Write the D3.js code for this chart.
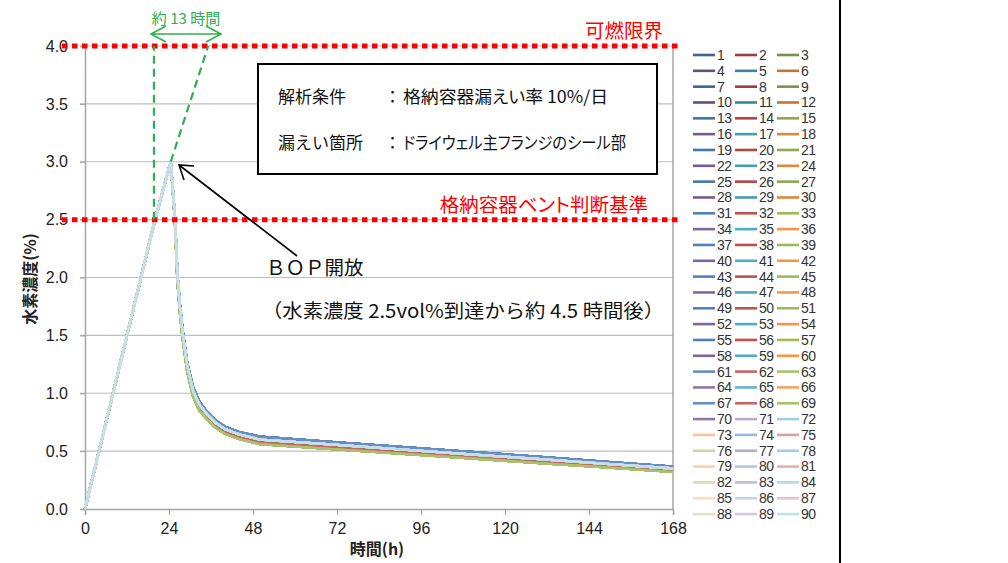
<!DOCTYPE html>
<html><head><meta charset="utf-8">
<script src="https://cdn.jsdelivr.net/npm/d3@7"></script>
<style>
body{margin:0;background:#fff;}
svg{display:block;font-family:"Noto Sans CJK JP",sans-serif;}
.num{font-family:"Liberation Sans Narrow","Liberation Sans",Arial,sans-serif;}
.jp{font-feature-settings:"palt";}
</style></head><body><svg id="c" width="1008" height="563"></svg>
<script>
// ---- data ----
const hours  = [0, 20, 24.5, 25.7, 26.4, 27.1, 27.9, 29.2, 30.9, 32.7, 34.8, 37.3, 40, 44, 50, 70, 88, 107, 130, 150, 168];
const curveA = [0, 2.5, 3.0, 2.52, 2.03, 1.77, 1.54, 1.26, 1.05, 0.925, 0.84, 0.765, 0.71, 0.665, 0.625, 0.58, 0.54, 0.50, 0.45, 0.405, 0.365];
const curveB = [0, 2.5, 3.0, 2.51, 2.02, 1.75, 1.52, 1.24, 1.02, 0.90, 0.82, 0.745, 0.69, 0.645, 0.60, 0.558, 0.519, 0.479, 0.43, 0.388, 0.35];
const curveC = [0, 2.5, 3.0, 2.50, 2.00, 1.73, 1.50, 1.22, 1.00, 0.88, 0.80, 0.725, 0.67, 0.625, 0.58, 0.539, 0.502, 0.463, 0.415, 0.374, 0.337];
const curveD = [0, 2.5, 3.0, 2.49, 1.99, 1.72, 1.49, 1.21, 0.99, 0.87, 0.79, 0.715, 0.66, 0.615, 0.57, 0.529, 0.492, 0.453, 0.406, 0.365, 0.328];
const curveE = [0, 2.5, 3.0, 2.48, 1.97, 1.70, 1.47, 1.19, 0.97, 0.85, 0.78, 0.705, 0.65, 0.605, 0.56, 0.519, 0.483, 0.444, 0.397, 0.357, 0.32];
// which of the curves each of series 1..90 follows
const seriesCurve = [
 0,2,4,1,1,3, 0,2,4,1,1,3, 0,2,4,1,1,3, 0,2,4,1,1,3, 0,2,4,1,1,3,
 0,2,4,1,1,3, 0,2,4,1,1,3, 0,2,4,1,1,3, 0,2,4,1,1,3, 0,2,4,1,1,3,
 0,2,4,1,1,3, 0,2,4,1,
 1,1,1,1,1,1, 1,1,1,1,1,1, 1,1,1,1,1,1, 1,1
];
const seriesNames = d3.range(1, 91).map(String);
const xTicks = [0, 24, 48, 72, 96, 120, 144, 168];
const yTicks = [0, 0.5, 1.0, 1.5, 2.0, 2.5, 3.0, 3.5, 4.0];
const limitLines = [{v:4.0, label:"可燃限界"}, {v:2.5, label:"格納容器ベント判断基準"}];

// ---- style ----
const palette = ["#4F81BD","#C0504D","#9BBB59","#8064A2","#4BACC6","#F79646"];
function seriesColor(i){
  const hue = i < 70 ? i % 6 : (i - 1) % 6;
  const c = palette[hue];
  if (i < 12) return d3.interpolateRgb(c, "#000")(0.22);
  if (i < 30) return d3.interpolateRgb(c, "#000")(0.1);
  if (i < 60) return c;
  if (i < 70) return d3.interpolateRgb(c, "#fff")(0.12);
  if (i < 78) return d3.interpolateRgb(c, "#fff")(0.45);
  if (i < 84) return d3.interpolateRgb(c, "#fff")(0.55);
  return d3.interpolateRgb(c, "#fff")(0.65);
}

const svg = d3.select("#c");
const x = d3.scaleLinear([0, 168], [85, 673]);
const y = d3.scaleLinear([0, 4], [509, 46]);
const curves = [curveA, curveB, curveC, curveD, curveE];

// gridlines
svg.append("g").selectAll("line").data(yTicks.filter(d => d > 0)).join("line")
  .attr("x1", 80).attr("x2", x(168)).attr("y1", d => y(d)).attr("y2", d => y(d))
  .attr("stroke", "#bdbdbd").attr("stroke-width", 1.2);

// axes
const yAxis = svg.append("g").attr("transform", `translate(${x(0)},0)`)
  .call(d3.axisLeft(y).tickValues(yTicks).tickFormat(d3.format(".1f")).tickSize(5).tickPadding(12));
const xAxis = svg.append("g").attr("transform", `translate(0,${y(0)})`)
  .call(d3.axisBottom(x).tickValues(xTicks).tickSize(6).tickPadding(8));
[yAxis, xAxis].forEach(g => {
  g.select(".domain").attr("stroke", "#a6a6a6").attr("stroke-width", 1.5);
  g.selectAll(".tick line").attr("stroke", "#a6a6a6").attr("stroke-width", 1.2);
  g.selectAll(".tick text").attr("class", "num").attr("fill", "#222").style("font-size", "16px");
});
// right border of plot area
svg.append("line").attr("x1", x(168)).attr("x2", x(168)).attr("y1", y(4)).attr("y2", y(0))
  .attr("stroke", "#a6a6a6").attr("stroke-width", 1.5);

// series
const line = d3.line().x((d, k) => x(hours[k])).y(d => y(d));
svg.append("g").selectAll("path").data(seriesNames).join("path")
  .attr("d", (n, i) => line(curves[seriesCurve[i]]))
  .attr("fill", "none").attr("stroke", (n, i) => seriesColor(i)).attr("stroke-width", 2.3)
  .attr("stroke-linejoin", "round");

// red limit lines
svg.append("g").selectAll("line").data(limitLines).join("line")
  .attr("x1", 62).attr("x2", 678).attr("y1", d => y(d.v)).attr("y2", d => y(d.v))
  .attr("stroke", "#ff0000").attr("stroke-width", 5).attr("stroke-dasharray", "5.5,4.5");
svg.append("text").attr("class", "jp").attr("x", 663).attr("y", y(4.0) - 8).attr("text-anchor", "end")
  .attr("fill", "#ff0000").style("font-size", "19.5px").text(limitLines[0].label);
svg.append("text").attr("class", "jp").attr("x", 648).attr("y", y(2.5) - 8).attr("text-anchor", "end")
  .attr("fill", "#ff0000").style("font-size", "19.5px").text(limitLines[1].label);

// green annotation
const green = "#2bb04e";
svg.append("line").attr("x1", x(19.7)).attr("x2", x(19.7)).attr("y1", y(2.5)).attr("y2", y(4.0))
  .attr("stroke", green).attr("stroke-width", 2.2).attr("stroke-dasharray", "8,5");
svg.append("line").attr("x1", x(24.5)).attr("x2", x(35.2)).attr("y1", y(3.0)).attr("y2", y(4.0))
  .attr("stroke", green).attr("stroke-width", 2.2).attr("stroke-dasharray", "8,5");
const ay = 34, ax1 = 151, ax2 = 221;
svg.append("path").attr("d", `M${ax1},${ay}H${ax2}M${ax1+15},${ay-8}L${ax1},${ay}L${ax1+15},${ay+8}M${ax2-15},${ay-8}L${ax2},${ay}L${ax2-15},${ay+8}`)
  .attr("fill", "none").attr("stroke", green).attr("stroke-width", 1.6);
svg.append("text").attr("x", 186).attr("y", 24).attr("text-anchor", "middle").attr("fill", green)
  .style("font-size", "15px").text("約 13 時間");

// info box
svg.append("rect").attr("x", 258).attr("y", 64).attr("width", 399).attr("height", 110)
  .attr("fill", "#fff").attr("stroke", "#000").attr("stroke-width", 2);
const boxRows = [["解析条件", "格納容器漏えい率 10%/日", 205], ["漏えい箇所", "ドライウェル主フランジのシール部", 223]];
boxRows.forEach((r, k) => {
  const yy = 103 + k * 46;
  svg.append("text").attr("x", 278).attr("y", yy).style("font-size", "17px").attr("fill", "#111").text(r[0]);
  svg.append("text").attr("x", 384).attr("y", yy).style("font-size", "17px").attr("fill", "#111").text("：");
  svg.append("text").attr("class", "jp").attr("x", 403).attr("y", yy).style("font-size", "17px").attr("fill", "#111")
    .attr("textLength", r[2]).attr("lengthAdjust", "spacingAndGlyphs").text(r[1]);
});

// BOP arrow
svg.append("path").attr("d", "M297,256L179,165M194,166L179,165L184,180")
  .attr("fill", "none").attr("stroke", "#000").attr("stroke-width", 1.6);
svg.append("text").attr("x", 266).attr("y", 275).style("font-size", "19.5px").attr("fill", "#111")
  .text("ＢＯＰ開放");
svg.append("text").attr("x", 262).attr("y", 318).style("font-size", "19px").attr("fill", "#111")
  .attr("textLength", 402).attr("lengthAdjust", "spacingAndGlyphs")
  .text("（水素濃度 2.5vol%到達から約 4.5 時間後）");

// axis titles
svg.append("text").attr("transform", "translate(36,279) rotate(-90)").attr("text-anchor", "middle")
  .style("font-size", "16px").style("font-weight", "bold").attr("fill", "#222").text("水素濃度(%)");
svg.append("text").attr("x", 377).attr("y", 555).attr("text-anchor", "middle")
  .style("font-size", "16px").style("font-weight", "bold").attr("fill", "#222").text("時間(h)");

// legend
const lg = svg.append("g").selectAll("g").data(seriesNames).join("g")
  .attr("transform", (n, i) => `translate(${693 + (i % 3) * 42},${55 + Math.floor(i / 3) * 15.83})`);
lg.append("line").attr("x1", 0).attr("x2", 22).attr("stroke", (n, i) => seriesColor(i)).attr("stroke-width", 2.6);
lg.append("text").attr("class", "num").attr("x", 24).attr("dy", "0.35em").style("font-size", "14px")
  .attr("fill", "#333").attr("letter-spacing", "-0.5").text(n => n);

// right edge line
svg.append("line").attr("x1", 840).attr("x2", 840).attr("y1", 0).attr("y2", 563)
  .attr("stroke", "#000").attr("stroke-width", 2);
</script></body></html>
